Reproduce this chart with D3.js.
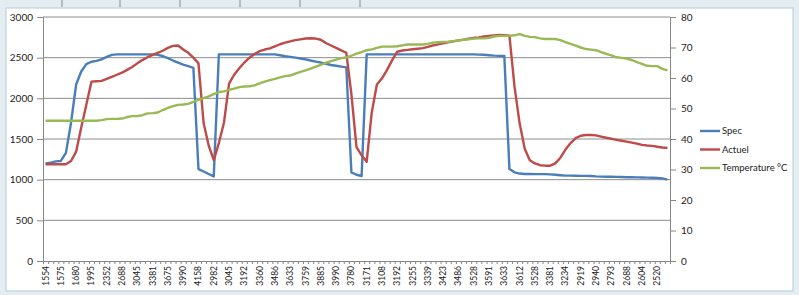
<!DOCTYPE html>
<html>
<head>
<meta charset="utf-8">
<script src="https://cdn.jsdelivr.net/npm/d3@7"></script>
<style>
  body { margin: 0; background: #fff; }
  svg { display: block; font-family: Lato, "Open Sans", sans-serif; }
</style>
</head>
<body>
<svg id="chart" width="799" height="295"></svg>
<script>
// shown category labels (one every 3 categories)
var tickLabels = ["1554","1575","1680","1995","2352","2688","3045","3381","3675","3990",
  "4158","2982","3045","3192","3360","3486","3633","3759","3885","3990",
  "3780","3171","3108","3192","3255","3339","3423","3486","3528","3591",
  "3633","3612","3528","3381","3234","2919","2940","2793","2688","2604","2520"];
var labelEvery = 3;

var spec = [1200,1210,1225,1230,1330,1700,2170,2330,2420,2450,
  2460,2480,2510,2535,2541,2541,2541,2541,2541,2541,
  2541,2541,2535,2520,2495,2465,2440,2415,2395,2375,
  1130,1100,1070,1040,2540,2541,2541,2541,2541,2541,
  2541,2541,2541,2541,2541,2540,2530,2518,2510,2500,
  2490,2480,2465,2452,2440,2425,2410,2400,2390,2380,
  1090,1060,1045,2541,2541,2541,2541,2541,2541,2541,
  2541,2541,2541,2541,2541,2541,2541,2541,2541,2541,
  2541,2541,2541,2541,2541,2538,2535,2530,2525,2522,
  2520,1130,1090,1075,1070,1070,1068,1068,1068,1065,
  1060,1055,1050,1050,1048,1047,1046,1045,1040,1038,
  1036,1035,1034,1032,1030,1030,1028,1026,1025,1024,
  1022,1015,1000];

var actuel = [1189,1190,1190,1190,1190,1230,1344,1640,1920,2205,
  2210,2215,2240,2265,2290,2315,2350,2385,2430,2470,
  2505,2535,2560,2585,2620,2645,2650,2600,2560,2500,
  2430,1700,1420,1240,1450,1700,2180,2290,2370,2440,
  2500,2545,2580,2600,2615,2640,2665,2685,2700,2715,
  2725,2735,2738,2735,2720,2680,2650,2620,2590,2560,
  2050,1400,1300,1221,1830,2170,2246,2350,2470,2573,
  2588,2596,2603,2610,2617,2632,2650,2663,2675,2690,
  2700,2712,2722,2733,2742,2750,2760,2766,2772,2778,
  2776,2770,2143,1693,1380,1240,1200,1178,1172,1172,
  1200,1270,1370,1450,1510,1540,1549,1549,1545,1530,
  1515,1503,1490,1478,1468,1455,1443,1428,1420,1415,
  1405,1395,1390];

var temperature = [46,46,46,46,46,46,46,46,46,46,
  46,46.2,46.5,46.6,46.6,46.7,47.2,47.5,47.5,47.8,
  48.4,48.5,48.7,49.5,50.2,50.8,51.2,51.3,51.5,52.2,
  52.8,53.4,54.0,54.7,55.4,55.6,56.1,56.5,57.0,57.2,
  57.3,57.6,58.2,58.8,59.3,59.7,60.2,60.6,60.8,61.4,
  62.0,62.5,63.1,63.7,64.3,65.0,65.5,66.0,66.5,66.7,
  67.3,68.0,68.5,69.1,69.4,69.9,70.3,70.3,70.3,70.4,
  70.7,71.0,71.0,71.0,71.0,71.2,71.6,71.7,71.8,71.9,
  72.1,72.3,72.5,72.7,72.9,73.0,73.0,73.2,73.6,73.8,
  73.8,73.8,74.0,74.4,73.8,73.5,73.4,73.0,72.8,72.8,
  72.8,72.4,71.8,71.2,70.6,70.0,69.5,69.3,69.1,68.5,
  67.9,67.4,66.8,66.6,66.4,65.9,65.2,64.6,64.0,63.9,
  63.9,63.0,62.5];

var seriesNames = ["Spec", "Actuel", "Temperature \u00b0C"];
var seriesColors = ["#4a7ebb", "#be4b48", "#98b954"];
var leftTicks = [0,500,1000,1500,2000,2500,3000];
var rightTicks = [0,10,20,30,40,50,60,70,80];

var svg = d3.select("#chart");
var plot = { left: 43, right: 670, top: 17, bottom: 261 };

// excel-ish frame
svg.append("rect").attr("x", 0).attr("y", 0).attr("width", 799).attr("height", 295)
  .attr("fill", "#e3edf2");
svg.append("rect").attr("x", 6).attr("y", 8).attr("width", 787).attr("height", 283)
  .attr("fill", "#fff").attr("stroke", "#b4cbd6");
[62,120,180,240,300,360].forEach(function(x) {
  svg.append("line").attr("x1", x).attr("x2", x).attr("y1", 0).attr("y2", 7)
    .attr("stroke", "#8a8a8a");
});

var idx = d3.range(spec.length);
var xScale = d3.scaleBand().domain(idx).range([plot.left, plot.right]).padding(0);
var xEdge = d3.scaleLinear().domain([0, spec.length]).range([plot.left, plot.right]);
var yLeft = d3.scaleLinear().domain([0, 3000]).range([plot.bottom, plot.top]);
var yRight = d3.scaleLinear().domain([0, 80]).range([plot.bottom, plot.top]);
var cx = function(i) { return xScale(i) + xScale.bandwidth() / 2; };

// gridlines
svg.append("g").selectAll("line").data(leftTicks.slice(1)).enter().append("line")
  .attr("x1", plot.left).attr("x2", plot.right)
  .attr("y1", d => yLeft(d)).attr("y2", d => yLeft(d))
  .attr("stroke", "#8c8c8c").attr("stroke-width", 1);

// left axis
var gl = svg.append("g").attr("transform", "translate(" + plot.left + ",0)")
  .call(d3.axisLeft(yLeft).tickValues(leftTicks).tickFormat(d3.format("d")).tickSize(6).tickPadding(4));
// right axis
var gr = svg.append("g").attr("transform", "translate(" + plot.right + ",0)")
  .call(d3.axisRight(yRight).tickValues(rightTicks).tickSize(6).tickPadding(5));
// bottom axis: tick marks on category edges
var gb = svg.append("g").attr("transform", "translate(0," + plot.bottom + ")")
  .call(d3.axisBottom(xEdge).tickValues(d3.range(spec.length + 1))
    .tickSize(3).tickFormat(""));
[gl, gr, gb].forEach(function(g) {
  g.select(".domain").attr("stroke", "#868686");
  g.selectAll(".tick line").attr("stroke", "#868686");
  g.selectAll("text").attr("font-size", "10px").attr("fill", "#222")
    .attr("font-family", "Lato, sans-serif");
});

// bottom labels, rotated
svg.append("g").selectAll("text").data(tickLabels).enter().append("text")
  .attr("transform", (d, i) => "translate(" + cx(i * labelEvery) + "," + (plot.bottom + 5) + ") rotate(-90)")
  .attr("text-anchor", "end").attr("dy", "0.35em")
  .attr("font-size", "8.5px").attr("fill", "#222")
  .text(d => d);

// lines
var lineL = d3.line().x((d, i) => cx(i)).y(d => yLeft(d));
var lineR = d3.line().x((d, i) => cx(i)).y(d => yRight(d));
[[spec, lineL], [actuel, lineL], [temperature, lineR]].forEach(function(s, k) {
  svg.append("path").datum(s[0]).attr("d", s[1])
    .attr("fill", "none").attr("stroke", seriesColors[k])
    .attr("stroke-width", 2.4).attr("stroke-linejoin", "round");
});

// legend
var legend = svg.append("g").attr("transform", "translate(700,131)");
seriesNames.forEach(function(name, k) {
  var ly = k * 18.5;
  legend.append("line").attr("x1", 0).attr("x2", 20).attr("y1", ly).attr("y2", ly)
    .attr("stroke", seriesColors[k]).attr("stroke-width", 2.4);
  legend.append("text").attr("x", 22).attr("y", ly).attr("dy", "0.35em")
    .attr("font-size", "9.5px").attr("fill", "#222").text(name);
});
</script>
</body>
</html>
